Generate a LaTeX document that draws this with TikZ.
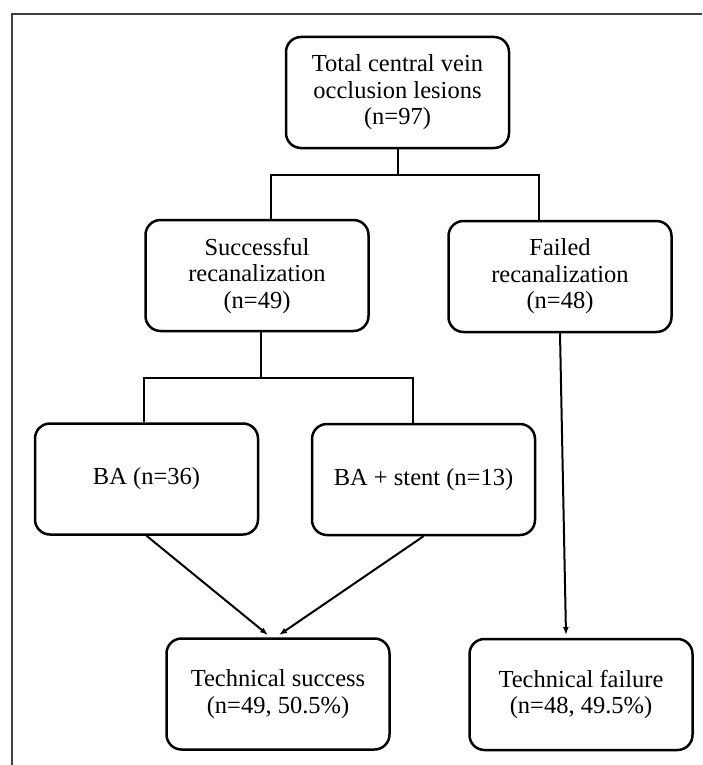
\documentclass[tikz,border=0pt]{standalone}
\usepackage{fontspec}
\setmainfont{Liberation Serif}
\usetikzlibrary{arrows.meta}
\tikzset{>={Latex[length=8pt,width=6pt]}}

\begin{document}
\begin{tikzpicture}[x = 1pt, y = -1pt, align = center,
    box/.style = {draw, line width = 2.5pt, rounded corners = 15pt,
      minimum width = 223pt, minimum height = 111pt,
      font = \fontsize{24.5}{26.5}\selectfont},
    link/.style = {line width = 2pt}]
        \useasboundingbox (0, 0) rectangle (702, 765);
        \draw[line width = 1.8pt, black!75] (12, 765) -- (12, 14) -- (702, 14);
        \node[box] (total_lesions) at (397.5, 92.5) {Total central vein \\ occlusion lesions \\ (n=97)};
        \node[box] (successful) at (257, 275.5) {Successful \\ recanalization \\ (n=49)};
        \node[box] (failed) at (560, 276.5) {Failed \\ recanalization \\ (n=48)};
        \node[box] (ba) at (146.5, 479) {BA (n=36)};
        \node[box] (ba_stent) at (423.5, 479.5) {BA + stent (n=13)};
        \node[box] (tech_success) at (278, 694) {Technical success \\ (n=49, 50.5\%)};
        \node[box] (tech_failure) at (581, 694.5) {Technical failure \\ (n=48, 49.5\%)};
        \coordinate (top_left) at (271, 175);
        \coordinate (top_right) at (539, 175);
        \coordinate (mid_stem) at (261, 378);
        \coordinate (mid_left) at (144, 378);
        \coordinate (mid_right) at (413, 378);
        \coordinate (success_in_left) at (268, 635);
        \coordinate (success_in_right) at (279, 635);
        \coordinate (failure_in) at (566, 635);
        \draw[link] (total_lesions.south) -- (total_lesions.south |- top_left);
        \draw[link] (successful.north -| top_left) -- (top_left) -- (top_right) -- (failed.north -| top_right);
        \draw[link] (successful.south -| mid_stem) -- (mid_stem);
        \draw[link] (ba.north -| mid_left) -- (mid_left) -- (mid_right) -- (ba_stent.north -| mid_right);
        \draw[link, ->] (ba.south) -- (success_in_left);
        \draw[link, ->] (ba_stent.south) -- (success_in_right);
        \draw[link, ->] (failed.south) -- (failure_in);
      \end{tikzpicture}
\end{document}
